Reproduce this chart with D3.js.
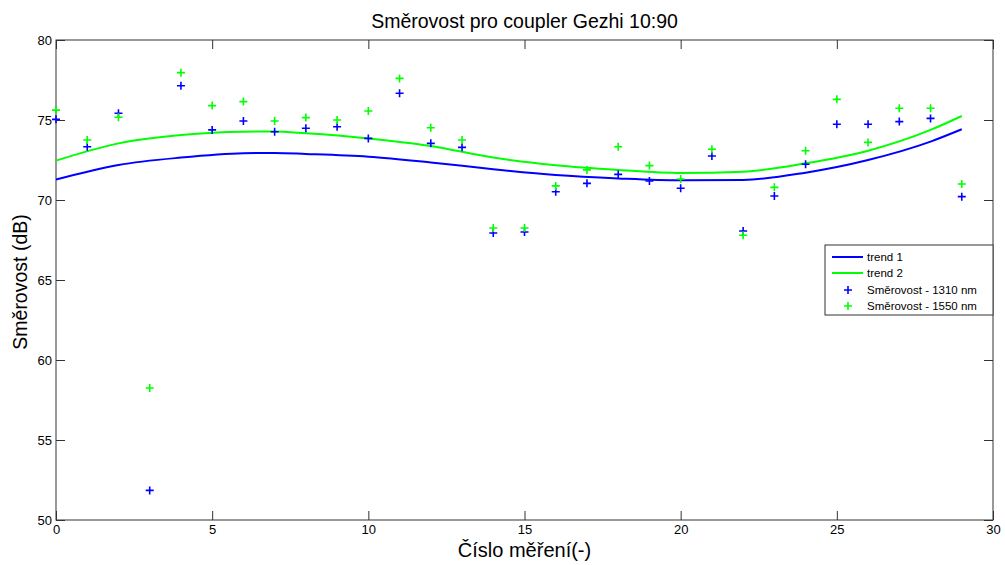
<!DOCTYPE html>
<html><head><meta charset="utf-8">
<script src="https://cdn.jsdelivr.net/npm/d3@7"></script>
<style>body{margin:0;background:#fff}svg{display:block}text{font-family:"Liberation Sans",Arial,sans-serif}</style>
</head><body>
<svg id="c" width="1005" height="565"></svg>
<script>
const xIdx = d3.range(0, 30);
const s1310 = [75.04,73.33,75.42,51.85,77.14,74.38,74.94,74.27,74.48,74.58,73.85,76.67,73.54,73.29,67.94,68.0,70.52,71.04,71.6,71.19,70.73,72.75,68.06,70.25,72.23,74.73,74.73,74.9,75.1,70.21];
const s1550 = [75.62,73.75,75.17,58.25,77.96,75.9,76.15,74.94,75.15,75.0,75.56,77.6,74.52,73.75,68.25,68.25,70.88,71.88,73.33,72.15,71.31,73.17,67.8,70.79,73.08,76.29,73.6,75.73,75.73,71.0];
const trendX = [0,2,4,6,7,8,10,12,14,16,18,20,22,24,26,28,29];
const trend1 = [71.28,72.19,72.65,72.92,72.94,72.88,72.71,72.35,71.92,71.56,71.35,71.23,71.25,71.71,72.5,73.65,74.42];
const trend2 = [72.46,73.54,74.06,74.27,74.28,74.17,73.85,73.38,72.65,72.17,71.88,71.69,71.77,72.29,73.08,74.38,75.25];
const xTicks = [0,5,10,15,20,25,30];
const yTicks = [50,55,60,65,70,75,80];
const legendLabels = ["trend 1","trend 2","Směrovost - 1310 nm","Směrovost - 1550 nm"];
const titleText = "Směrovost pro coupler Gezhi 10:90";
const xLabel = "Číslo měření(-)";
const yLabel = "Směrovost (dB)";

const svg = d3.select("#c");
const L=56,R=993,T=40,B=520;
const x = d3.scaleLinear().domain([0,30]).range([L,R]);
const y = d3.scaleLinear().domain([50,80]).range([B,T]);
const BLUE="#0000ff", GREEN="#00ff00";

const axCol="#333";
function styleAx(g){g.select(".domain").remove();g.selectAll("line").attr("stroke",axCol);g.selectAll("text").attr("font-size",13).attr("fill","#000");}
svg.append("g").attr("transform",`translate(0,${B})`).call(d3.axisBottom(x).tickValues(xTicks).tickSize(-9).tickPadding(5).tickFormat(d3.format("d"))).call(styleAx);
svg.append("g").attr("transform",`translate(0,${T})`).call(d3.axisTop(x).tickValues(xTicks).tickSize(-9).tickFormat("")).call(styleAx);
svg.append("g").attr("transform",`translate(${L},0)`).call(d3.axisLeft(y).tickValues(yTicks).tickSize(-9).tickPadding(4).tickFormat(d3.format("d"))).call(styleAx);
svg.append("g").attr("transform",`translate(${R},0)`).call(d3.axisRight(y).tickValues(yTicks).tickSize(-9).tickFormat("")).call(styleAx);
svg.append("rect").attr("x",L).attr("y",T).attr("width",R-L).attr("height",B-T).attr("fill","none").attr("stroke",axCol).attr("stroke-width",1);

const line = d3.line().curve(d3.curveMonotoneX).x(d=>x(d[0])).y(d=>y(d[1]));
svg.append("path").attr("d",line(trendX.map((v,i)=>[v,trend1[i]]))).attr("fill","none").attr("stroke",BLUE).attr("stroke-width",2);
svg.append("path").attr("d",line(trendX.map((v,i)=>[v,trend2[i]]))).attr("fill","none").attr("stroke",GREEN).attr("stroke-width",2);

function plus(g,cx,cy,col){
  g.append("path").attr("d",`M${cx-4},${cy}H${cx+4}M${cx},${cy-4}V${cy+4}`).attr("stroke",col).attr("stroke-width",1.6).attr("fill","none");
}
const mg = svg.append("g");
xIdx.forEach((v,i)=>plus(mg,x(v),y(s1310[i]),BLUE));
xIdx.forEach((v,i)=>plus(mg,x(v),y(s1550[i]),GREEN));

const lg = svg.append("g");
lg.append("rect").attr("x",825).attr("y",245).attr("width",168).attr("height",70).attr("fill","#fff").attr("stroke",axCol);
const rows=[257,273,290,306];
lg.append("line").attr("x1",832).attr("x2",863).attr("y1",rows[0]).attr("y2",rows[0]).attr("stroke",BLUE).attr("stroke-width",2);
lg.append("line").attr("x1",832).attr("x2",863).attr("y1",rows[1]).attr("y2",rows[1]).attr("stroke",GREEN).attr("stroke-width",2);
plus(lg,848,rows[2],BLUE);
plus(lg,848,rows[3],GREEN);
legendLabels.forEach((t,i)=>lg.append("text").attr("x",867).attr("y",rows[i]+4).attr("font-size",11.5).text(t));

svg.append("text").attr("x",(L+R)/2).attr("y",28).attr("text-anchor","middle").attr("font-size",19.5).text(titleText);
svg.append("text").attr("x",(L+R)/2).attr("y",557).attr("text-anchor","middle").attr("font-size",20).text(xLabel);
svg.append("text").attr("transform",`translate(27,${(T+B)/2+2}) rotate(-90)`).attr("text-anchor","middle").attr("font-size",19.5).text(yLabel);
</script>
</body></html>
